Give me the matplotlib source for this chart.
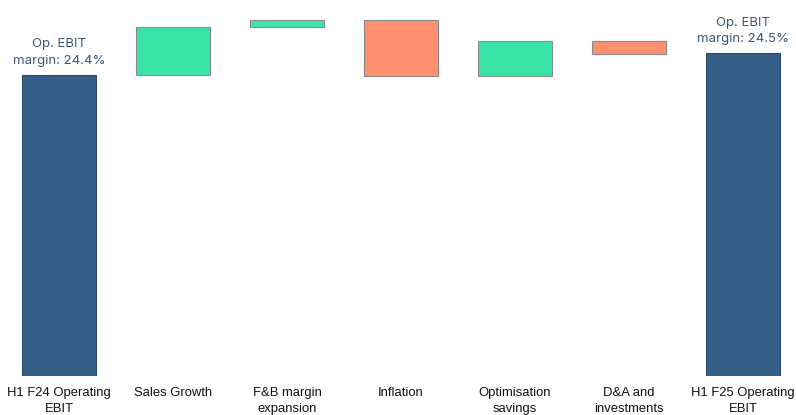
import matplotlib
matplotlib.use("Agg")
import matplotlib.pyplot as plt
import numpy as np

categories = ["H1 F24 Operating\nEBIT", "Sales Growth", "F&B margin\nexpansion",
              "Inflation", "Optimisation\nsavings", "D&A and\ninvestments",
              "H1 F25 Operating\nEBIT"]
start_value = 30.1
changes = [4.8, 0.7, -5.6, 3.5, -1.3]
end_value = 32.3
margin_labels = ["Op. EBIT\nmargin: 24.4%", "Op. EBIT\nmargin: 24.5%"]

total_color = "#365f88"
up_color = "#3ae3a6"
down_color = "#fe9170"
edge_color = "#8a8a8a"

fig = plt.figure(figsize=(7.96, 4.15), dpi=100)
ax = fig.add_axes([0.0, 1 - 376 / 415, 1.0, 376 / 415])

x = np.arange(len(categories))
width = 0.65

# opening total
ax.bar(x[0], start_value, width=width, color=total_color, edgecolor="#2a4a6a", linewidth=0.8)

# bridge steps
level = start_value
for i, c in enumerate(changes, start=1):
    bottom = level if c >= 0 else level + c
    ax.bar(x[i], abs(c), bottom=bottom, width=width,
           color=up_color if c >= 0 else down_color,
           edgecolor=edge_color, linewidth=0.8)
    level += c

# closing total
ax.bar(x[-1], end_value, width=width, color=total_color, edgecolor="#2a4a6a", linewidth=0.8)

# margin annotations above the totals
for xi, val, txt in [(x[0], start_value, margin_labels[0]), (x[-1], end_value, margin_labels[1])]:
    ax.text(xi, val + 0.8, txt, ha="center", va="bottom", fontsize=9.5,
            family="Inter", color="#3b5878", linespacing=1.5)

ax.set_xlim(-0.5175, 6.465)
ax.set_ylim(0, 37.6)
ax.set_xticks(x)
ax.set_xticklabels(categories, fontsize=9.4, family="Liberation Sans", color="#111111",
                   linespacing=1.4)
ax.tick_params(axis="x", length=0, pad=8)
ax.set_yticks([])
for s in ax.spines.values():
    s.set_visible(False)

fig.savefig("out.png", dpi=100)
